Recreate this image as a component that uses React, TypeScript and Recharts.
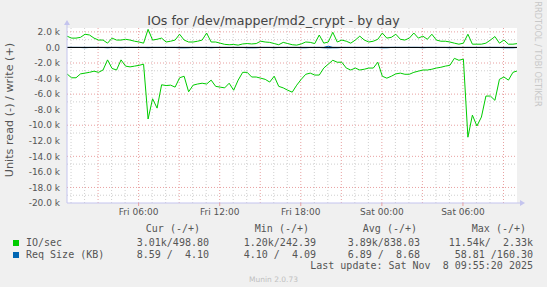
import { LineChart, Line, XAxis, YAxis, CartesianGrid, ReferenceLine } from 'recharts';

// time axis in hours since Fri 00:00, one sample every 20 minutes
const START_HOUR = 0.7;
const STEP_HOURS = 1 / 3;

// IO/sec, read drawn negative, write positive
const readIO = [
  -3400, -3900, -3900, -3400, -3300, -3200, -3050, -3200, -2900, -1600,
  -2700, -2900, -1600, -2400, -2500, -2400, -2300, -2150, -9200, -6600,
  -7800, -4800, -4900, -4850, -5100, -3900, -3700, -5700, -4850, -4700,
  -4600, -4700, -4200, -5000, -5100, -5200, -4600, -5500, -4200, -3200,
  -3200, -3800, -3800, -3950, -4100, -4450, -3700, -5000, -5200, -5500,
  -5750, -4850, -4100, -3450, -3300, -3550, -3550, -2650, -2150, -1650,
  -1900, -1900, -2650, -2900, -2650, -2900, -2800, -2650, -2650, -1900,
  -3700, -3950, -3700, -3400, -3300, -3450, -3450, -3200, -3050, -2900,
  -2900, -2800, -2650, -2550, -2400, -2300, -1400, -1650, -1500, -11540,
  -8700, -10100, -8950, -6250, -6250, -6800, -4100, -3800, -4200, -3200,
  -3010,
];

const writeIO = [
  1450, 1200, 1200, 1300, 1700, 1600, 1200, 950, 950, 550,
  1200, 950, 950, 1050, 950, 800, 700, 550, 2330, 950,
  1050, 1200, 700, 800, 950, 1700, 950, 700, 700, 800,
  950, 1850, 700, 700, 550, 400, 350, 380, 300, 450,
  500, 450, 500, 800, 700, 650, 500, 350, 650, 500,
  350, 300, 450, 700, 650, 500, 1600, 550, 700, 1950,
  700, 950, 800, 550, 950, 1450, 950, 700, 800, 1050,
  1850, 1200, 1300, 1700, 1050, 950, 1200, 1850, 1200, 1450,
  1050, 1700, 950, 800, 800, 700, 550, 420, 550, 1700,
  420, 420, 420, 550, 950, 1400, 550, 950, 420, 420,
  499,
];

// Req Size (KB), read drawn negative, write positive
const readReqKB = [
  -5, -5, -5, -6, -35, -5, -5, -6, -5, -40,
  -6, -5, -38, -5, -5, -6, -5, -5, -30, -5,
  -5, -6, -5, -5, -6, -42, -45, -36, -5, -6,
  -5, -5, -34, -5, -6, -5, -5, -6, -5, -5,
  -40, -44, -38, -5, -6, -5, -35, -5, -5, -6,
  -5, -5, -40, -38, -5, -6, -5, -42, -58.8, -45,
  -40, -5, -6, -5, -5, -6, -5, -5, -6, -5,
  -44, -40, -5, -6, -5, -5, -6, -5, -5, -36,
  -5, -5, -6, -5, -5, -38, -5, -6, -5, -5,
  -5, -6, -5, -5, -6, -5, -5, -40, -45, -42,
  -8.6,
];

const writeReqKB = [
  8, 9, 7, 8, 10, 8, 9, 7, 8, 9,
  8, 7, 9, 8, 10, 8, 7, 9, 12, 8,
  8, 9, 7, 8, 9, 11, 8, 7, 8, 9,
  8, 10, 7, 6, 5, 5, 4.1, 5, 5, 6,
  6, 5, 6, 8, 7, 6, 5, 5, 6, 5,
  5, 4.1, 5, 7, 6, 5, 9, 6, 160.3, 12,
  7, 8, 8, 6, 8, 10, 8, 7, 8, 9,
  11, 9, 10, 11, 9, 8, 9, 11, 9, 10,
  9, 11, 8, 8, 8, 7, 6, 5, 6, 10,
  5, 5, 5, 6, 8, 9, 6, 8, 5, 5,
  4.1,
];

const xTicks = [6, 12, 18, 24, 30];
const xTickLabels = ['Fri 06:00', 'Fri 12:00', 'Fri 18:00', 'Sat 00:00', 'Sat 06:00'];
const yTicks = [-20000, -18000, -16000, -14000, -12000, -10000, -8000, -6000, -4000, -2000, 0, 2000];
const majorHours = [3, 6, 9, 12, 15, 18, 21, 24, 27, 30, 33];
const minorHours = [1, 2, 4, 5, 7, 8, 10, 11, 13, 14, 16, 17, 19, 20, 22, 23, 25, 26, 28, 29, 31, 32];
const majorY = [-18000, -16000, -14000, -12000, -10000, -8000, -6000, -4000, -2000, 2000];
const minorY = [-19000, -17000, -15000, -13000, -11000, -9000, -7000, -5000, -3000, -1000, 1000];

const legendRows = [
  { name: 'IO/sec', color: '#00CC00', cur: '3.01k/498.80', min: '1.20k/242.39', avg: '3.89k/838.03', max: '11.54k/  2.33k' },
  { name: 'Req Size (KB)', color: '#0066B3', cur: '8.59 /  4.10', min: '4.10 /  4.09', avg: '6.89 /  8.68', max: '58.81 /160.30' },
];

const data = readIO.map((r, i) => ({
  t: START_HOUR + i * STEP_HOURS,
  ioRead: r,
  ioWrite: writeIO[i],
  reqRead: readReqKB[i],
  reqWrite: writeReqKB[i],
}));

const mono = '"DejaVu Sans Mono", monospace';
const sans = '"DejaVu Sans", sans-serif';
const axisColor = '#c4c4ee';

function fmtY(v: number) {
  if (v === 0) return '0.0';
  return `${(v / 1000).toFixed(1)} k`;
}

function fmtX(v: number) {
  const idx = xTicks.indexOf(v);
  return idx >= 0 ? xTickLabels[idx] : '';
}

function Txt({ left, top, right, children, style }: any) {
  const pos: any = { position: 'absolute', top, whiteSpace: 'pre', lineHeight: '12px' };
  if (right !== undefined) {
    pos.left = 0;
    pos.width = right;
    pos.textAlign = 'right';
  } else {
    pos.left = left;
  }
  return <div style={{ ...pos, fontFamily: mono, fontSize: 10, color: '#555', ...style }}>{children}</div>;
}

export default function App() {
  const colEnds = [209, 316, 420, 533];
  const headEnds = [200, 309, 417, 526];
  return (
    <div style={{ position: 'absolute', left: 0, top: 0, width: 547, height: 287, background: '#f0f0f0', overflow: 'hidden' }}>
      <LineChart width={547} height={287} data={data} margin={{ top: 28, right: 30, bottom: 64, left: 0 }}>
        <CartesianGrid
          fill="#ffffff"
          stroke="#cfcfcf"
          strokeDasharray="1 2"
          horizontalValues={minorY}
          verticalValues={minorHours}
        />
        <CartesianGrid
          stroke="#e8a0a0"
          strokeDasharray="1 2"
          horizontalValues={majorY}
          verticalValues={majorHours}
        />
        <XAxis
          dataKey="t"
          type="number"
          domain={[0.7, 34]}
          allowDataOverflow
          ticks={xTicks}
          tickFormatter={fmtX}
          height={20}
          tickSize={3}
          tickMargin={3}
          tickLine={{ stroke: '#e8a0a0' }}
          axisLine={{ stroke: axisColor }}
          tick={{ fontFamily: sans, fontSize: 9, fill: '#555' }}
        />
        <YAxis
          type="number"
          domain={[-20000, 2500]}
          allowDataOverflow
          ticks={yTicks}
          tickFormatter={fmtY}
          width={67}
          tickSize={4}
          tickMargin={3}
          tickLine={false}
          axisLine={{ stroke: axisColor }}
          tick={{ fontFamily: sans, fontSize: 9, fill: '#555' }}
        />
        <Line type="linear" dataKey="reqRead" stroke="#0066B3" strokeWidth={1} dot={false} isAnimationActive={false} />
        <Line type="linear" dataKey="reqWrite" stroke="#0066B3" strokeWidth={1} dot={false} isAnimationActive={false} />
        <Line type="linear" dataKey="ioRead" stroke="#00CC00" strokeWidth={1} dot={false} isAnimationActive={false} />
        <Line type="linear" dataKey="ioWrite" stroke="#00CC00" strokeWidth={1} dot={false} isAnimationActive={false} />
        <ReferenceLine y={0} stroke="#000000" strokeWidth={1} />
      </LineChart>

      {/* axis arrows */}
      <svg width={547} height={287} style={{ position: 'absolute', left: 0, top: 0, pointerEvents: 'none' }}>
        <line x1={67} y1={28} x2={67} y2={22} stroke={axisColor} />
        <path d="M64,25 L67,20 L70,25 Z" fill={axisColor} />
        <line x1={517} y1={203} x2={521} y2={203} stroke={axisColor} />
        <path d="M520,200 L525,203 L520,206 Z" fill={axisColor} />
      </svg>

      <div style={{ position: 'absolute', left: 0, width: 547, top: 12, textAlign: 'center', fontFamily: sans, fontSize: 12.6, color: '#444', lineHeight: '17px' }}>
        IOs for /dev/mapper/md2_crypt - by day
      </div>
      <div
        style={{
          position: 'absolute', left: 10, top: 110, width: 170, marginLeft: -85, marginTop: -7,
          transform: 'rotate(-90deg)', textAlign: 'center', fontFamily: sans, fontSize: 11.2, color: '#555', lineHeight: '14px', whiteSpace: 'nowrap',
        }}
      >
        Units read (-) / write (+)
      </div>
      <div
        style={{
          position: 'absolute', left: 538, top: 54, width: 120, marginLeft: -60, marginTop: -5,
          transform: 'rotate(90deg)', textAlign: 'center', fontFamily: sans, fontSize: 8.2, color: '#c8c8c8', lineHeight: '10px', whiteSpace: 'nowrap',
        }}
      >
        RRDTOOL / TOBI OETIKER
      </div>

      {['Cur (-/+)', 'Min (-/+)', 'Avg (-/+)', 'Max (-/+)'].map((h, k) => (
        <Txt key={h} right={headEnds[k]} top={223}>{h}</Txt>
      ))}
      {legendRows.map((row, r) => {
        const top = 236.5 + r * 12.5;
        return (
          <div key={row.name}>
            <div style={{ position: 'absolute', left: 13, top: top + 3, width: 6, height: 6, background: row.color }} />
            <Txt left={26} top={top}>{row.name}</Txt>
            {[row.cur, row.min, row.avg, row.max].map((v, k) => (
              <Txt key={k} right={colEnds[k]} top={top}>{v}</Txt>
            ))}
          </div>
        );
      })}
      <Txt right={533} top={260}>{'Last update: Sat Nov  8 09:55:20 2025'}</Txt>
      <div style={{ position: 'absolute', left: 0, width: 547, top: 274.5, textAlign: 'center', fontFamily: sans, fontSize: 7.5, color: '#c0c0c0', lineHeight: '10px' }}>
        Munin 2.0.73
      </div>
    </div>
  );
}
